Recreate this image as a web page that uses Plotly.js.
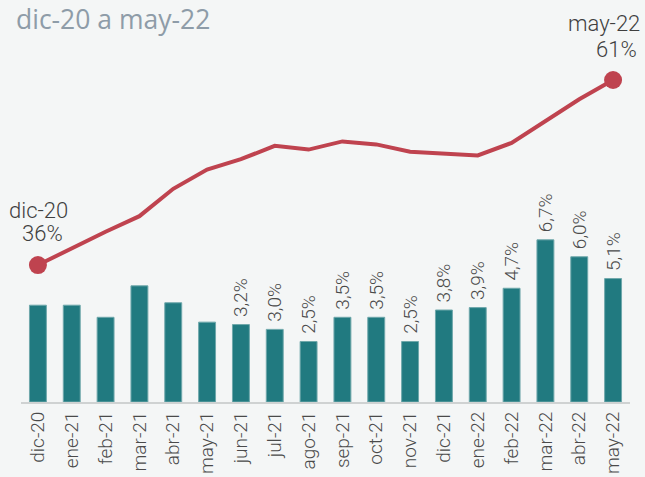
<!DOCTYPE html>
<html><head><meta charset="utf-8">
<script src="https://cdn.plot.ly/plotly-3.0.1.min.js"></script>
<style>html,body{margin:0;padding:0;background:#f4f6f6;}#chart{width:645px;height:477px;}</style>
</head><body><div id="chart"></div>
<script>
const months = ["dic-20","ene-21","feb-21","mar-21","abr-21","may-21","jun-21","jul-21","ago-21","sep-21","oct-21","nov-21","dic-21","ene-22","feb-22","mar-22","abr-22","may-22"];
const barValues = [4.0,4.0,3.5,4.8,4.1,3.3,3.2,3.0,2.5,3.5,3.5,2.5,3.8,3.9,4.7,6.7,6.0,5.1];
const barLabels = ["","","","","","","3,2%","3,0%","2,5%","3,5%","3,5%","2,5%","3,8%","3,9%","4,7%","6,7%","6,0%","5,1%"];
const lineValues = [36,38.3,40.5,42.6,46.3,48.9,50.3,52.1,51.6,52.7,52.3,51.3,51.1,50.8,52.5,55.5,58.4,61];
const titleText = "dic-20 a may-22";
const startMonth = "dic-20", startPct = "36%";
const endMonth = "may-22", endPct = "61%";

const font = "Roboto, sans-serif";
const n = months.length;

const data = [
  {type:'bar', x:months, y:barValues, text:barLabels.map(s => s ? "\u00a0" + s : s),
   textposition:'outside', textangle:-90, constraintext:'none', cliponaxis:false,
   textfont:{family:font, size:19, color:'#4a4a4a', weight:300},
   marker:{color:'#217a80', line:{color:'#6fa8ab', width:1}}, width:0.5, hoverinfo:'none'},
  {type:'scatter', mode:'lines', x:months, y:lineValues, yaxis:'y2',
   line:{color:'#bf434f', width:4}, hoverinfo:'none'},
  {type:'scatter', mode:'markers', x:[months[0], months[n-1]], y:[lineValues[0], lineValues[n-1]], yaxis:'y2',
   marker:{color:'#bf434f', size:18}, cliponaxis:false, hoverinfo:'none'}
];

const annFont = {family:font, size:22, color:'#3f3f3f', weight:300};
const layout = {
  width:645, height:477,
  margin:{l:21, r:15, t:0, b:75},
  paper_bgcolor:'#f4f6f6', plot_bgcolor:'#f4f6f6',
  showlegend:false,
  bargap:0.5,
  xaxis:{type:'category', range:[-0.5, n-0.5], tickangle:-90, ticks:'', showgrid:false,
    showline:true, linecolor:'#cfd2d2', linewidth:2,
    tickfont:{family:font, size:19, color:'#4a4a4a', weight:300}},
  yaxis:{range:[0,16.61], visible:false, showgrid:false, zeroline:false},
  yaxis2:{range:[17.49,71.81], overlaying:'y', visible:false, showgrid:false, zeroline:false},
  annotations:[
    {text:titleText, xref:'paper', yref:'paper', x:-0.012, y:1, xanchor:'left', yanchor:'top', yshift:1,
     showarrow:false, font:{family:"'Open Sans', sans-serif", size:26.5, color:'#8e9ca8'}},
    {text:startMonth, xref:'x', yref:'y2', x:months[0], y:lineValues[0], xshift:1, yshift:55, yanchor:'middle',
     showarrow:false, font:annFont},
    {text:startPct, xref:'x', yref:'y2', x:months[0], y:lineValues[0], xshift:5, yshift:32, yanchor:'middle',
     showarrow:false, font:annFont},
    {text:endMonth, xref:'x', yref:'y2', x:months[n-1], y:lineValues[n-1], xshift:29, xanchor:'right', yshift:57, yanchor:'middle',
     showarrow:false, font:annFont},
    {text:endPct, xref:'x', yref:'y2', x:months[n-1], y:lineValues[n-1], xshift:3, yshift:31, yanchor:'middle',
     showarrow:false, font:annFont}
  ]
};
Plotly.newPlot('chart', data, layout, {displayModeBar:false, staticPlot:true});
</script></body></html>
